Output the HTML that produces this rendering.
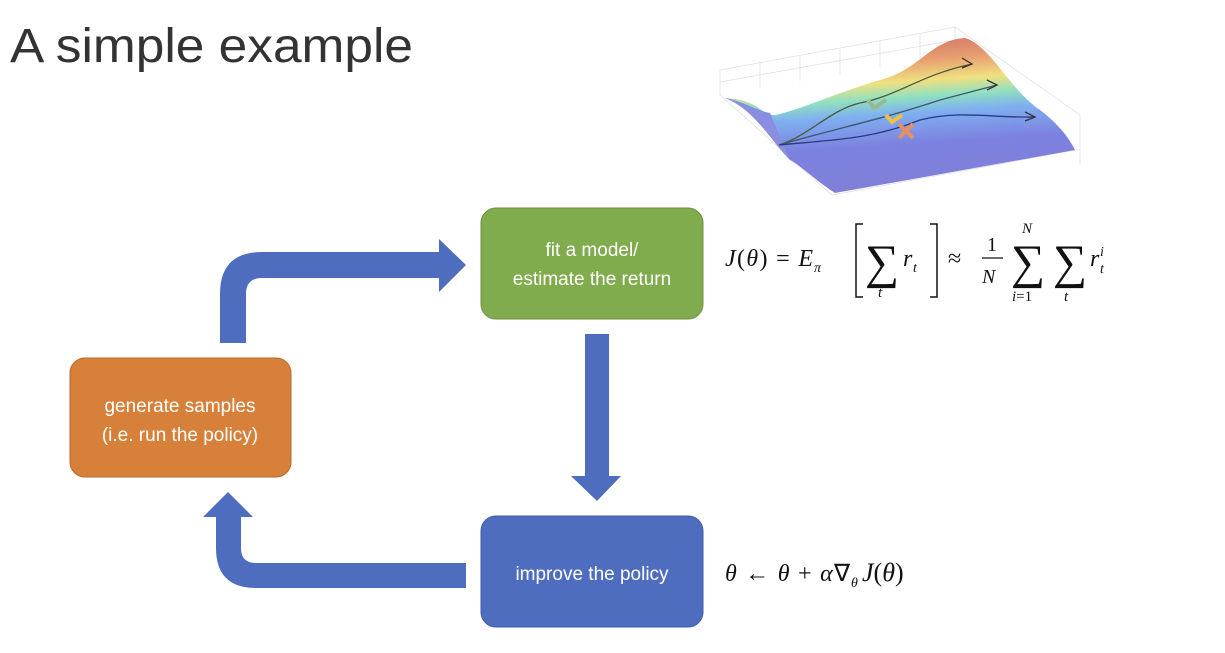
<!DOCTYPE html>
<html><head><meta charset="utf-8"><style>
html,body{margin:0;padding:0;background:#fff;}
svg{display:block;}
.m{font-family:"Liberation Serif",serif;fill:#111;}
.i{font-style:italic;}
.b{font-family:"Liberation Sans",sans-serif;fill:#fff;font-size:19px;}
</style></head><body>
<svg width="1225" height="653" viewBox="0 0 1225 653" xmlns="http://www.w3.org/2000/svg">
<defs>
<linearGradient id="surf" x1="0" y1="0" x2="0.15" y2="1">
<stop offset="0" stop-color="#c0504d" stop-opacity=".85"/>
<stop offset="0.22" stop-color="#e8a070"/>
<stop offset="0.35" stop-color="#f0e080"/>
<stop offset="0.45" stop-color="#90e0c0"/>
<stop offset="0.55" stop-color="#7fb0f0"/>
<stop offset="0.75" stop-color="#7c80e0"/>
<stop offset="1" stop-color="#8080d8"/>
</linearGradient>
</defs>
<text x="10" y="62" font-family="Liberation Sans,sans-serif" font-size="48" fill="#333" textLength="403" lengthAdjust="spacingAndGlyphs">A simple example</text>

<!-- surface plot -->
<g stroke="#ddd" stroke-width="0.7" fill="none">
<path d="M720 70 L955 27 L1080 115 L1080 165 M720 70 L720 95 M955 27 L955 52 M760 63 L760 88 M800 56 L800 81 M840 49 L840 74 M880 41 L880 66 M920 34 L920 59 M720 82 L955 40"/>
<path d="M720 95 L832 195 L1075 150"/>
</g>
<path d="M725 98 C760 100 760 115 775 115 C800 110 830 95 880 80 C920 70 930 40 965 38 C990 45 1010 90 1040 110 C1060 125 1070 140 1075 150 L835 193 C815 180 800 165 790 160 C770 140 760 110 725 98 Z" fill="url(#surf)"/>
<path d="M725 98 C740 100 755 110 770 113 L790 160 C770 140 755 110 725 98 Z" fill="#8a8ee0"/>
<g fill="none" stroke-width="1.3">
<path d="M779 145 C810 135 830 110 860 103 C900 95 920 75 972 64" stroke="#4a5a3a"/>
<path d="M779 145 C830 130 880 120 940 100 L997 85" stroke="#3a5a70"/>
<path d="M779 145 C830 140 870 140 920 120 C960 110 990 118 1035 117" stroke="#2a3a80"/>
<path d="M962 58 L972 64 L962 68 M987 80 L997 85 L987 90 M1025 112 L1035 117 L1025 121" stroke="#333"/>
</g>
<path d="M868 100 l6 8 l12 -8" stroke="#9ab890" stroke-width="4" fill="none"/>
<path d="M886 115 l6 7 l10 -7" stroke="#f0c040" stroke-width="4" fill="none"/>
<path d="M899 124 l14 14 M913 124 l-14 14" stroke="#e89060" stroke-width="4"/>

<!-- boxes -->
<rect x="481" y="208" width="222" height="111" rx="15" fill="#80ac4e" stroke="#6a9040"/>
<rect x="481" y="516" width="222" height="111" rx="15" fill="#4f6dbe" stroke="#3f5ca8"/>
<rect x="70" y="358" width="221" height="119" rx="15" fill="#d6803a" stroke="#b86a2a"/>
<text class="b" x="592" y="256" text-anchor="middle">fit a model/</text>
<text class="b" x="592" y="285" text-anchor="middle">estimate the return</text>
<text class="b" x="592" y="580" text-anchor="middle">improve the policy</text>
<text class="b" x="180" y="412" text-anchor="middle">generate samples</text>
<text class="b" x="180" y="441" text-anchor="middle">(i.e. run the policy)</text>

<!-- arrows -->
<path d="M220 343 L220 294 Q220 252 262 252 L439 252 L439 239 L466 265 L439 292 L439 278 L262 278 Q246 278 246 294 L246 343 Z" fill="#4f6dbe"/>
<path d="M585 334 L609 334 L609 476 L621 476 L597 501 L571 476 L585 476 Z" fill="#4f6dbe"/>
<path d="M466 563 L256 563 Q241 563 241 548 L241 517 L253 517 L228 492 L203 517 L216 517 L216 548 Q216 588 256 588 L466 588 Z" fill="#4f6dbe"/>

<!-- formula 1 -->
<g class="m">
<text x="725" y="266" font-size="24" textLength="88" lengthAdjust="spacing"><tspan class="i">J</tspan>(<tspan class="i">θ</tspan>) = <tspan class="i">E</tspan></text>
<text x="814" y="272" font-size="14" class="i">π</text>
<path d="M863 224 L856 224 L856 297 L863 297 M930 224 L937 224 L937 297 L930 297" stroke="#111" stroke-width="1.5" fill="none"/>
<text x="865" y="278" font-size="48">∑</text>
<text x="878" y="297" font-size="15" class="i">t</text>
<text x="903" y="266" font-size="24" class="i">r</text>
<text x="913" y="272" font-size="14" class="i">t</text>
<text x="948" y="266" font-size="24">≈</text>
<text x="987" y="251" font-size="20">1</text>
<line x1="982" y1="258" x2="1003" y2="258" stroke="#111" stroke-width="1.2"/>
<text x="982" y="283" font-size="20" class="i">N</text>
<text x="1011" y="278" font-size="48">∑</text>
<text x="1022" y="233" font-size="15" class="i">N</text>
<text x="1012" y="301" font-size="15"><tspan class="i">i</tspan>=1</text>
<text x="1053" y="278" font-size="48">∑</text>
<text x="1064" y="301" font-size="15" class="i">t</text>
<text x="1090" y="266" font-size="24" class="i">r</text>
<text x="1100" y="256" font-size="14" class="i">i</text>
<text x="1100" y="273" font-size="14" class="i">t</text>
</g>
<!-- formula 2 -->
<g class="m">
<text x="725" y="581" font-size="24" textLength="125" lengthAdjust="spacing"><tspan class="i">θ</tspan> ← <tspan class="i">θ</tspan> + <tspan class="i">α</tspan>∇</text>
<text x="851" y="587" font-size="14" class="i">θ</text>
<text x="862" y="581" font-size="26"><tspan class="i">J</tspan>(<tspan class="i">θ</tspan>)</text>
</g>
</svg>
</body></html>
